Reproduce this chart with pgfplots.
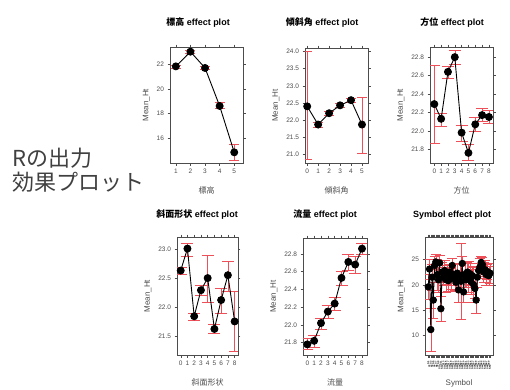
\documentclass[border=0pt]{standalone}
\usepackage{fontspec}
\setmainfont{Liberation Sans}
\newfontfamily\cjk{Noto Sans CJK JP}
\usepackage{pgfplots}
\pgfplotsset{compat=1.18}
\usepackage{pgfplotstable}
\definecolor{cired}{RGB}{238,80,90}

\pgfplotstableread{
x y ep em
1 21.85 0.13 0.13
2 23.05 0.15 0.15
3 21.72 0.13 0.13
4 18.62 0.28 0.19
5 14.84 0.67 0.68
}\dA
\pgfplotstableread{
x y ep em
0 22.40 1.60 1.55
1 21.87 0.08 0.07
2 22.20 0.05 0.05
3 22.43 0.07 0.06
4 22.58 0.06 0.05
5 21.87 0.80 0.84
}\dB
\pgfplotstableread{
x y ep em
0 22.29 0.42 0.42
1 22.13 0.06 0.08
2 22.64 0.06 0.07
3 22.80 0.07 0.08
4 21.98 0.08 0.09
5 21.76 0.09 0.08
6 22.07 0.08 0.08
7 22.17 0.08 0.07
8 22.15 0.07 0.07
}\dC
\pgfplotstableread{
x y ep em
0 22.63 0.05 0.07
1 23.01 0.10 0.14
2 21.84 0.06 0.07
3 22.29 0.08 0.09
4 22.50 0.40 0.42
5 21.62 0.08 0.07
6 22.12 0.20 0.22
7 22.55 0.24 0.28
8 21.75 0.52 0.52
}\dD
\pgfplotstableread{
x y ep em
0 21.78 0.07 0.06
1 21.82 0.06 0.07
2 22.02 0.06 0.07
3 22.15 0.07 0.07
4 22.24 0.07 0.07
5 22.53 0.08 0.08
6 22.71 0.09 0.09
7 22.68 0.10 0.10
8 22.86 0.06 0.06
}\dE
\pgfplotstableread{
x y e
1 19.6 2.5
2 23.1 2.0
3 11.2 4.2
4 21.5 2.5
5 17.0 3.5
6 23.8 1.8
7 24.5 1.5
8 22.0 3.0
9 21.0 2.5
10 24.3 1.5
11 15.3 2.5
12 22.5 2.0
13 21.5 1.5
14 22.8 2.0
15 21.0 2.5
16 22.0 1.8
17 20.8 2.0
18 22.5 1.5
19 21.2 2.0
20 23.8 1.5
21 22.0 2.0
22 21.5 2.5
23 20.5 1.8
24 22.3 2.0
25 19.0 2.5
26 21.8 2.2
27 20.7 7.5
28 24.2 1.5
29 18.6 2.0
30 22.0 2.5
31 21.0 1.5
32 22.5 2.0
33 21.6 3.0
34 22.2 2.0
35 20.6 2.5
36 21.8 1.8
37 20.0 3.5
38 19.3 2.0
39 17.0 2.5
40 21.5 2.0
41 22.8 1.5
42 23.5 1.8
43 24.4 1.2
44 24.0 1.5
45 22.5 2.0
46 23.0 1.8
47 22.0 2.0
48 22.6 1.5
49 21.8 1.8
50 22.3 2.0
}\dF

\pgfplotsset{
 eff/.style={
  scale only axis, anchor=south west,
  tick align=outside, tick pos=both,
  axis line style={black!70},
  major tick length=2.5pt,
  tick style={black!70, line width=0.4pt},
  ticklabel style={font=\fontsize{6.5}{7}\selectfont, text=black!70},
  /pgf/number format/assume math mode=true,
  label style={font=\fontsize{8}{9}\selectfont, text=black!70},
  xlabel style={yshift=-6pt},
  ylabel={Mean\_Ht},
 },
 ci/.style={color=cired, only marks, mark=none, forget plot,
  error bars/.cd, y dir=both, y explicit,
  error bar style={cired, line width=0.45pt},
  error mark options={cired, draw=cired, rotate=90, mark size=#1, line width=0.45pt}},
 eline/.style={black, line width=0.9pt, mark=*, mark size=3.5pt, mark options={fill=black, draw=black}},
}

\begin{document}
\begin{tikzpicture}[x=1pt,y=1pt]
\path[use as bounding box] (0,0) rectangle (510,389);

% Panel 1
\begin{axis}[eff, at={(170pt,226pt)}, width=73pt, height=116pt,
  xmin=0.6, xmax=5.6, ymin=13.97, ymax=23.43,
  xtick={1,2,3,4,5}, ytick={16,18,20,22},
  xlabel={\cjk 標高}]
\addplot[ci=5pt] table[x=x,y=y,y error plus=ep,y error minus=em]{\dA};
\addplot[eline] table[x=x,y=y]{\dA};
\end{axis}

% Panel 2
\begin{axis}[eff, at={(305pt,226pt)}, width=63pt, height=115pt,
  xmin=-0.2, xmax=5.55, ymin=20.75, ymax=24.1,
  xtick={0,1,2,3,4,5}, ytick={21,21.5,22,22.5,23,23.5,24},
  yticklabel style={/pgf/number format/.cd, fixed, fixed zerofill, precision=1},
  xlabel={\cjk 傾斜角}]
\addplot[ci=5pt] table[x=x,y=y,y error plus=ep,y error minus=em]{\dB};
\addplot[eline] table[x=x,y=y]{\dB};
\end{axis}

% Panel 3
\begin{axis}[eff, at={(430pt,226pt)}, width=63pt, height=116pt,
  xmin=-0.63, xmax=8.6, ymin=21.65, ymax=22.91,
  xtick={0,...,8}, ytick={21.8,22.0,22.2,22.4,22.6,22.8},
  yticklabel style={/pgf/number format/.cd, fixed, fixed zerofill, precision=1},
  xlabel={\cjk 方位}]
\addplot[ci=6pt] table[x=x,y=y,y error plus=ep,y error minus=em]{\dC};
\addplot[eline] table[x=x,y=y]{\dC};
\end{axis}

% Panel 4
\begin{axis}[eff, at={(177pt,34pt)}, width=61pt, height=118pt,
  xmin=-0.55, xmax=8.5, ymin=21.17, ymax=23.21,
  xtick={0,...,8}, ytick={21.5,22.0,22.5,23.0},
  yticklabel style={/pgf/number format/.cd, fixed, fixed zerofill, precision=1},
  xlabel={\cjk 斜面形状}]
\addplot[ci=6pt] table[x=x,y=y,y error plus=ep,y error minus=em]{\dD};
\addplot[eline] table[x=x,y=y]{\dD};
\end{axis}

% Panel 5
\begin{axis}[eff, at={(303pt,34pt)}, width=64pt, height=117pt,
  xmin=-0.63, xmax=8.73, ymin=21.66, ymax=22.98,
  xtick={0,...,8}, ytick={21.8,22.0,22.2,22.4,22.6,22.8},
  yticklabel style={/pgf/number format/.cd, fixed, fixed zerofill, precision=1},
  xlabel={\cjk 流量}]
\addplot[ci=6pt] table[x=x,y=y,y error plus=ep,y error minus=em]{\dE};
\addplot[eline] table[x=x,y=y]{\dE};
\end{axis}

% Panel 6
\begin{axis}[eff, at={(425pt,34pt)}, width=68pt, height=118pt,
  xmin=-1.6, xmax=52.4, ymin=6.2, ymax=29.4,
  xtick={1,3,...,49}, ytick={10,15,20,25},
  extra x ticks={2,4,...,50},
  extra x tick style={xticklabel style={xshift=-3.6pt}},
  xticklabel={S\pgfmathprintnumber[int detect]{\tick}},
  xticklabel style={font=\fontsize{2.5}{2.7}\selectfont\bfseries, text=black, rotate=90, anchor=east, inner sep=0.6pt, xshift=-3pt},
  xlabel={Symbol}, xlabel style={yshift=2pt}]
\addplot[ci=5pt] table[x=x,y=y,y error=e]{\dF};
\addplot[eline, mark size=3.2pt] table[x=x,y=y]{\dF};
\end{axis}

% Titles
\begin{scope}[every node/.style={font=\fontsize{9}{10}\selectfont\bfseries}]
\node at (198,366) {{\cjk 標高} effect plot};
\node at (322,366) {{\cjk 傾斜角} effect plot};
\node at (452,366) {{\cjk 方位} effect plot};
\node at (197,174) {{\cjk 斜面形状} effect plot};
\node at (325,174) {{\cjk 流量} effect plot};
\node at (452,174) {Symbol effect plot};
\end{scope}

% Left text
\node[anchor=west, font=\cjk\fontsize{22}{24}\selectfont, text=black!75, inner sep=0pt] at (12,231) {Rの出力};
\node[anchor=west, font=\cjk\fontsize{22}{24}\selectfont, text=black!75, inner sep=0pt] at (12,207) {効果プロット};
\end{tikzpicture}
\end{document}
